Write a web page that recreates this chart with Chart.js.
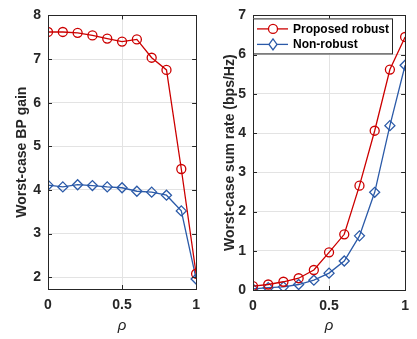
<!DOCTYPE html>
<html>
<head>
<meta charset="utf-8">
<script src="https://cdn.jsdelivr.net/npm/chart.js@4"></script>
<style>
  body { margin: 0; background: #fff; }
  .wrap { position: absolute; top: 0; height: 339px; }
  #w1 { left: 0; width: 208px; }
  #w2 { left: 208px; width: 209px; }
</style>
</head>
<body>
<div class="wrap" id="w1"><canvas id="gainChart"></canvas></div>
<div class="wrap" id="w2"><canvas id="rateChart"></canvas></div>
<script>
// rho values on x axis
const rho = [0, 0.1, 0.2, 0.3, 0.4, 0.5, 0.6, 0.7, 0.8, 0.9, 1];

// left: worst-case BP gain
const gainRobust = [7.62, 7.62, 7.60, 7.54, 7.47, 7.40, 7.45, 7.03, 6.75, 4.48, 2.08];
const gainNonRobust = [4.11, 4.07, 4.12, 4.10, 4.07, 4.05, 3.97, 3.95, 3.88, 3.52, 1.96];

// right: worst-case sum rate
const rateRobust = [0.10, 0.14, 0.21, 0.30, 0.51, 0.96, 1.42, 2.66, 4.06, 5.62, 6.45];
const rateNonRobust = [0.03, 0.06, 0.08, 0.14, 0.25, 0.43, 0.74, 1.38, 2.49, 4.19, 5.73];

const xTicks = [0, 0.5, 1];
const gainTicks = [2, 3, 4, 5, 6, 7, 8];
const rateTicks = [0, 1, 2, 3, 4, 5, 6, 7];

const legendLabels = ['Proposed robust', 'Non-robust'];

const RED = '#cc0000';
const BLUE = '#2b5aa8';
const AXIS = '#262626';
const FONT = 'Liberation Sans, Arial, sans-serif';

// box + inward ticks like matlab
const boxPlugin = {
  id: 'box',
  afterDraw(chart) {
    const ctx = chart.ctx;
    const a = chart.chartArea;
    ctx.save();
    ctx.strokeStyle = AXIS;
    ctx.lineWidth = 1;
    ctx.strokeRect(Math.round(a.left) + 0.5, Math.round(a.top) + 0.5,
      Math.round(a.right - a.left), Math.round(a.bottom - a.top));
    const x = chart.scales.x, y = chart.scales.y;
    ctx.beginPath();
    x.ticks.forEach(t => {
      const px = Math.round(x.getPixelForValue(t.value)) + 0.5;
      ctx.moveTo(px, a.bottom); ctx.lineTo(px, a.bottom - 4);
      ctx.moveTo(px, a.top); ctx.lineTo(px, a.top + 4);
    });
    y.ticks.forEach(t => {
      const py = Math.round(y.getPixelForValue(t.value)) + 0.5;
      ctx.moveTo(a.left, py); ctx.lineTo(a.left + 4, py);
      ctx.moveTo(a.right, py); ctx.lineTo(a.right - 4, py);
    });
    ctx.stroke();
    ctx.restore();
  }
};

// legend drawn inside the plot area
const innerLegend = {
  id: 'innerLegend',
  afterDraw(chart) {
    if (!chart.options.plugins.innerLegend || !chart.options.plugins.innerLegend.show) return;
    const ctx = chart.ctx;
    const a = chart.chartArea;
    const bx = a.left, by = a.top + 3, bw = 139, bh = 35;
    ctx.save();
    ctx.fillStyle = '#fff';
    ctx.fillRect(bx, by, bw, bh);
    ctx.strokeStyle = AXIS;
    ctx.lineWidth = 1;
    ctx.strokeRect(bx + 0.5, by + 0.5, bw, bh);
    ctx.font = 'bold 12px ' + FONT;
    ctx.textBaseline = 'middle';
    chart.data.datasets.forEach((ds, i) => {
      const ly = by + 10.5 + i * 15.5;
      ctx.strokeStyle = ds.borderColor;
      ctx.lineWidth = 1.3;
      ctx.beginPath();
      ctx.moveTo(bx + 4, ly); ctx.lineTo(bx + 35, ly);
      ctx.stroke();
      const cx = bx + 20;
      ctx.beginPath();
      ctx.fillStyle = '#fff';
      if (ds.pointStyle === 'circle') {
        ctx.arc(cx, ly, 4.5, 0, Math.PI * 2);
      } else {
        ctx.moveTo(cx, ly - 5.5); ctx.lineTo(cx + 4, ly);
        ctx.lineTo(cx, ly + 5.5); ctx.lineTo(cx - 4, ly); ctx.closePath();
      }
      ctx.fill();
      ctx.stroke();
      ctx.fillStyle = '#000';
      ctx.fillText(ds.label, bx + 40, ly + 0.5);
    });
    ctx.restore();
  }
};

function makeChart(id, series, yMin, yMax, yTickVals, yTitle, pad, yWidth, xHeight, showLegend) {
  const ctx = document.getElementById(id);
  return new Chart(ctx, {
    type: 'line',
    data: {
      datasets: [
        {
          label: legendLabels[0],
          data: rho.map((r, i) => ({ x: r, y: series[0][i] })),
          borderColor: RED, backgroundColor: 'rgba(0,0,0,0)',
          pointStyle: 'circle', pointRadius: 4.5, pointBorderWidth: 1.3,
          borderWidth: 1.3, tension: 0
        },
        {
          label: legendLabels[1],
          data: rho.map((r, i) => ({ x: r, y: series[1][i] })),
          borderColor: BLUE, backgroundColor: 'rgba(0,0,0,0)',
          pointStyle: 'rectRot', pointRadius: 5, pointBorderWidth: 1.3,
          borderWidth: 1.3, tension: 0
        }
      ]
    },
    options: {
      responsive: true,
      maintainAspectRatio: false,
      animation: false,
      layout: { padding: pad },
      plugins: {
        legend: { display: false },
        tooltip: { enabled: false },
        innerLegend: { show: showLegend }
      },
      scales: {
        x: {
          type: 'linear', min: 0, max: 1,
          afterBuildTicks: s => { s.ticks = xTicks.map(v => ({ value: v })); },
          afterFit: s => { s.height = xHeight; },
          grid: { color: '#e3e3e3', drawTicks: false },
          border: { display: false },
          ticks: { color: AXIS, font: { family: FONT, size: 14, weight: 'bold' }, padding: 8,
            maxRotation: 0, callback: v => String(v) },
          title: { display: true, text: 'ρ', color: AXIS,
            font: { family: FONT, size: 15, style: 'italic' }, padding: { top: 2 } }
        },
        y: {
          type: 'linear', min: yMin, max: yMax,
          afterBuildTicks: s => { s.ticks = yTickVals.map(v => ({ value: v })); },
          afterFit: s => { s.width = yWidth; },
          grid: { color: '#e3e3e3', drawTicks: false },
          border: { display: false },
          ticks: { color: AXIS, font: { family: FONT, size: 14, weight: 'bold' }, padding: 7 },
          title: { display: true, text: yTitle, color: AXIS,
            font: { family: FONT, size: 14, weight: 'bold' }, padding: { top: 14, bottom: 0 } }
        }
      }
    },
    plugins: [boxPlugin, innerLegend]
  });
}

makeChart('gainChart', [gainRobust, gainNonRobust], 1.73, 8, gainTicks,
  'Worst-case BP gain', { top: 6, right: 4, left: 0, bottom: 0 }, 48, 50, false);
makeChart('rateChart', [rateRobust, rateNonRobust], 0, 7, rateTicks,
  'Worst-case sum rate (bps/Hz)', { top: 6, right: 6, left: 0, bottom: 0 }, 45, 49, true);
</script>
</body>
</html>
